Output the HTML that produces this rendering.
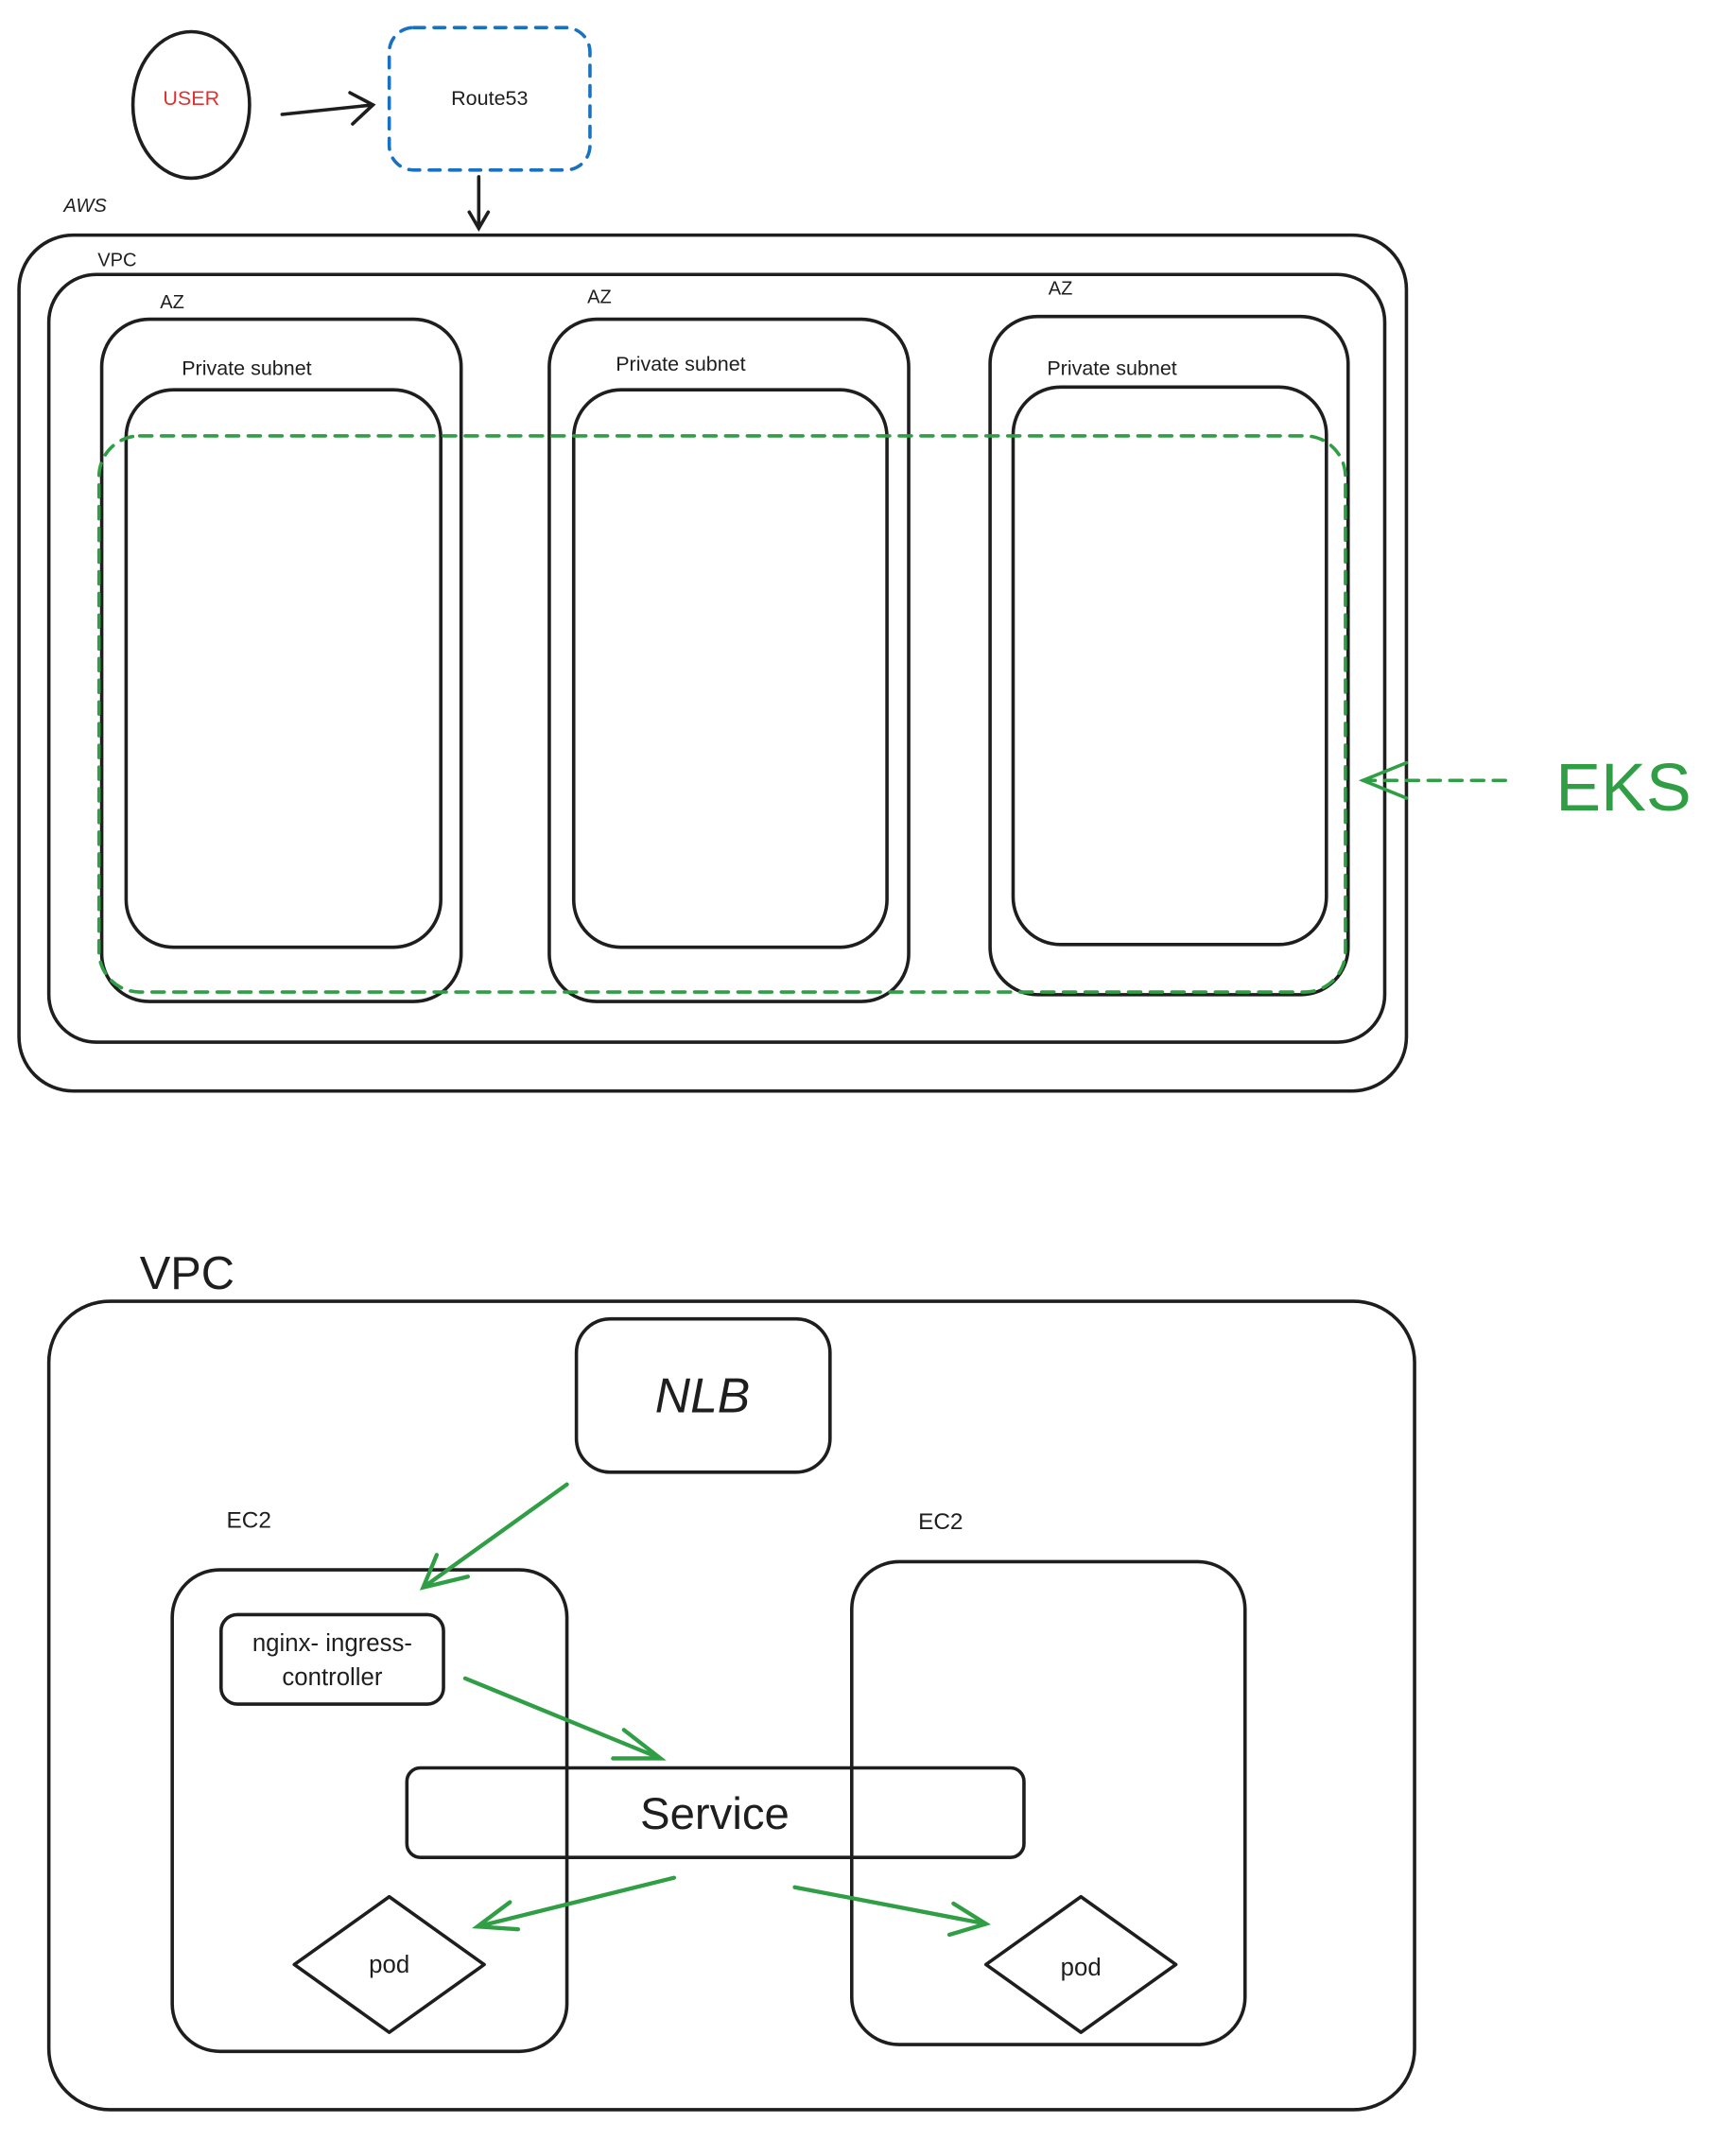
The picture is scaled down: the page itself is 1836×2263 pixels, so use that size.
<!DOCTYPE html>
<html><head><meta charset="utf-8"><style>
html,body{margin:0;padding:0;background:#fff;}
svg{display:block;}
text{font-family:"Liberation Sans",sans-serif;fill:#1e1e1e;}
</style></head><body>
<svg width="1836" height="2263" viewBox="0 0 1280 1577" xmlns="http://www.w3.org/2000/svg">
<defs>
<marker id="ab" viewBox="0 0 10 10" refX="9" refY="5" markerWidth="9" markerHeight="9" orient="auto" markerUnits="userSpaceOnUse"><path d="M0,0 L10,5 L0,10" fill="none" stroke="#1e1e1e" stroke-width="1.5"/></marker>
</defs>
<g fill="none" stroke="#1e1e1e" stroke-width="2.5" stroke-linecap="round">
<ellipse cx="141" cy="77" rx="43" ry="54"/>
<path d="M208,84 L275,77 M258,68 L275,77 L260,91"/>
<rect x="287" y="20" width="148" height="105" rx="18" stroke="#1971c2" stroke-dasharray="8 7"/>
<path d="M353,130 L353,168 M346,156 L353,168 L360,156"/>
<rect x="14" y="173" width="1023" height="631" rx="40"/>
<rect x="36" y="202" width="985" height="566" rx="35"/>
<rect x="75" y="235" width="265" height="503" rx="35"/>
<rect x="93" y="287" width="232" height="411" rx="35"/>
<rect x="405" y="235" width="265" height="503" rx="35"/>
<rect x="423" y="287" width="231" height="411" rx="35"/>
<rect x="730" y="233" width="264" height="500" rx="35"/>
<rect x="747" y="285" width="231" height="411" rx="35"/>
<rect x="73" y="321" width="919" height="410" rx="30" stroke="#2f9e44" stroke-dasharray="9 7"/>
<path d="M1110,575 L1005,575" stroke="#2f9e44" stroke-dasharray="9 7"/>
<path d="M1037,562 L1005,575 L1037,588" stroke="#2f9e44"/>
<rect x="36" y="959" width="1007" height="596" rx="45"/>
<rect x="425" y="972" width="187" height="113" rx="25"/>
<rect x="127" y="1157" width="291" height="355" rx="35"/>
<rect x="628" y="1151" width="290" height="356" rx="35"/>
<rect x="163" y="1190" width="164" height="66" rx="12"/>
<rect x="300" y="1303" width="455" height="66" rx="10"/>
<path d="M287,1398 L357,1448 L287,1498 L217,1448 Z" stroke-linejoin="round"/>
<path d="M797,1398 L867,1448 L797,1498 L727,1448 Z" stroke-linejoin="round"/>
<g stroke="#2f9e44" stroke-width="3">
<path d="M418,1094 L312,1170 M322,1146 L312,1170 L345,1162"/>
<path d="M343,1237 L487,1296 M460,1275 L487,1296 L452,1296"/>
<path d="M497,1384 L352,1420 M376,1402 L352,1420 L382,1422"/>
<path d="M586,1391 L727,1418 M703,1403 L727,1418 L700,1426"/>
</g>
</g>
<text x="141" y="77" font-size="15" fill="#e03131" style="fill:#e03131" text-anchor="middle">USER</text>
<text x="361" y="77" font-size="15" text-anchor="middle">Route53</text>
<text x="47" y="156" font-size="14" font-style="italic">AWS</text>
<text x="72" y="196" font-size="14">VPC</text>
<text x="118" y="227" font-size="14">AZ</text>
<text x="433" y="223" font-size="14">AZ</text>
<text x="773" y="217" font-size="14">AZ</text>
<text x="134" y="276" font-size="15">Private subnet</text>
<text x="454" y="273" font-size="15">Private subnet</text>
<text x="772" y="276" font-size="15">Private subnet</text>
<text x="1147" y="597" font-size="50" style="fill:#2f9e44">EKS</text>
<text x="103" y="950" font-size="34">VPC</text>
<text x="518" y="1041" font-size="36" text-anchor="middle" font-style="italic">NLB</text>
<text x="167" y="1126" font-size="17">EC2</text>
<text x="677" y="1127" font-size="17">EC2</text>
<text x="245" y="1217" font-size="18" text-anchor="middle">nginx- ingress-</text>
<text x="245" y="1242" font-size="18" text-anchor="middle">controller</text>
<text x="527" y="1348" font-size="33" text-anchor="middle">Service</text>
<text x="287" y="1454" font-size="18" text-anchor="middle">pod</text>
<text x="797" y="1456" font-size="18" text-anchor="middle">pod</text>
</svg>
</body></html>
